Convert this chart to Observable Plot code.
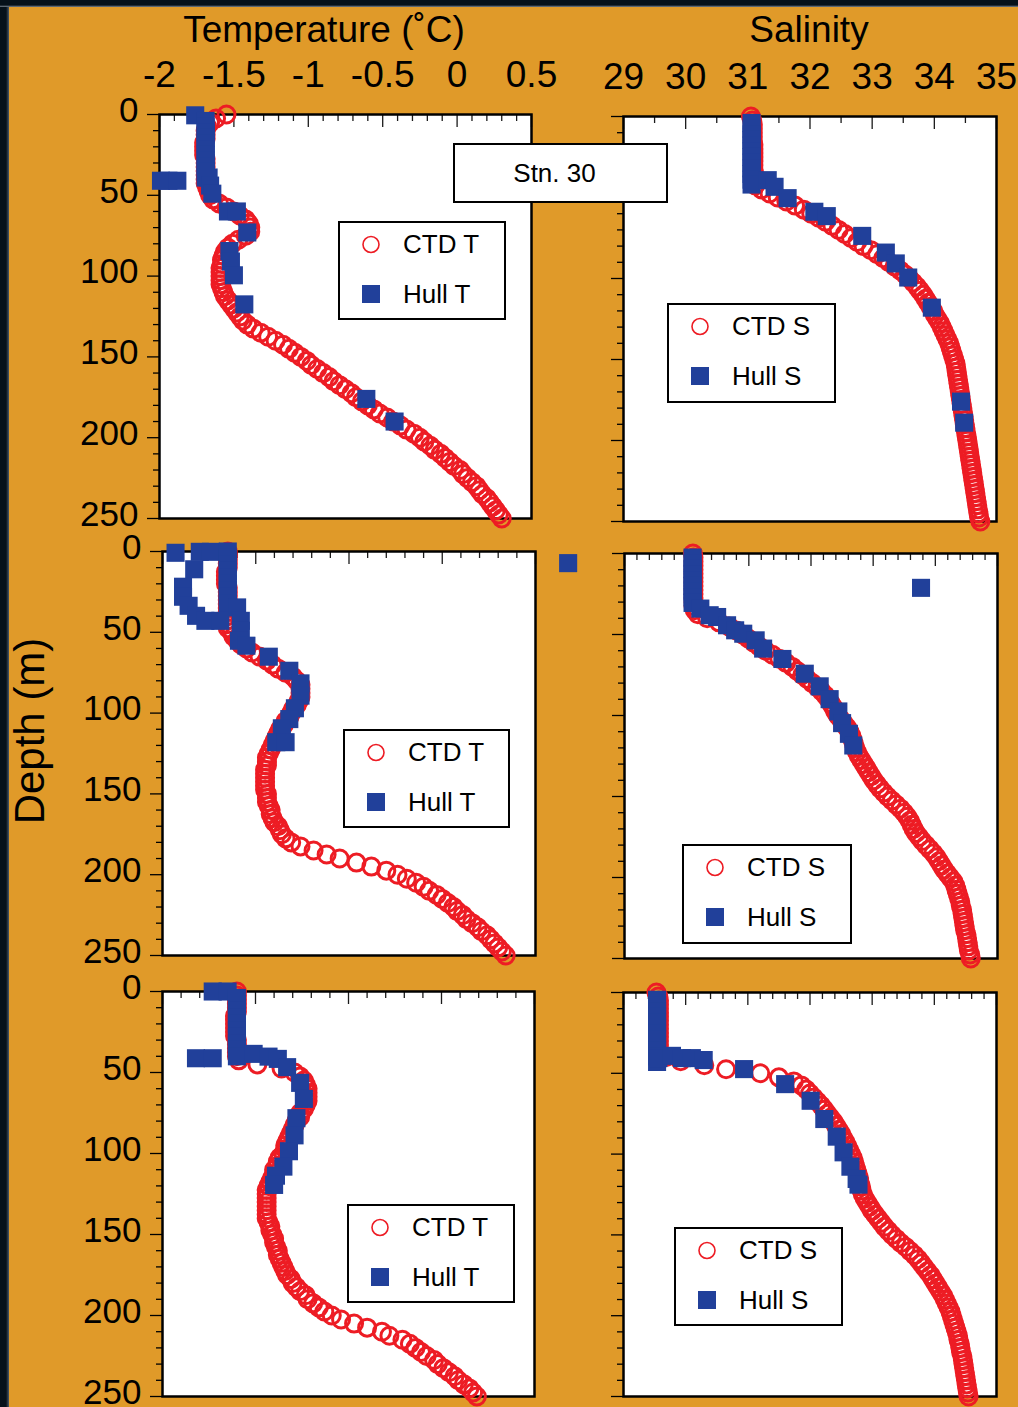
<!DOCTYPE html>
<html>
<head>
<meta charset="utf-8">
<script src="https://cdn.jsdelivr.net/npm/d3@7"></script>
<script src="https://cdn.jsdelivr.net/npm/@observablehq/plot@0.6"></script>
<style>
html, body { margin: 0; padding: 0; }
body { width: 1018px; height: 1407px; position: relative; overflow: hidden; background: #E09A29;
  font-family: "Liberation Sans", Arial, Helvetica, sans-serif; color: #000; }
.title { position: absolute; font-size: 37px; line-height: 37px; text-align: center; white-space: nowrap; }
.legend { position: absolute; background: #fff; border: 2px solid #000; box-sizing: border-box; z-index: 5; }
.legend svg { position: absolute; left: -2px; top: -2px; overflow: visible; }
.stn { position: absolute; background: #fff; border: 2px solid #000; box-sizing: border-box; z-index: 5;
  font-size: 26px; display: flex; align-items: center; justify-content: center; padding-right: 12px; }
</style>
</head>
<body>
<script>
// ---------- DATA ----------
const RED = "#ED1C24", BLUE = "#21409A";

// CTD sampling depths (m)
const depthCTD = [
  0,2.5,5,7.5,10,12.5,15,17.5,20,22.5,
  25,27.5,30,32.5,35,37.5,40,42.5,45,47.5,
  50,52.5,55,57.5,60,62.5,65,67.5,70,72.5,
  75,77.5,80,82.5,85,87.5,90,92.5,95,97.5,
  100,102.5,105,107.5,110,112.5,115,117.5,120,122.5,
  125,127.5,130,132.5,135,137.5,140,142.5,145,147.5,
  150,152.5,155,157.5,160,162.5,165,167.5,170,172.5,
  175,177.5,180,182.5,185,187.5,190,192.5,195,197.5,
  200,202.5,205,207.5,210,212.5,215,217.5,220,222.5,
  225,227.5,230,232.5,235,237.5,240,242.5,245,247.5,
  250];

// Row 1 CTD temperature / salinity
const ctdT1 = [
  -1.55,-1.62,-1.66,-1.68,-1.69,-1.69,-1.69,-1.70,-1.70,-1.70,
  -1.70,-1.69,-1.69,-1.69,-1.69,-1.69,-1.69,-1.69,-1.68,-1.67,
  -1.66,-1.64,-1.60,-1.55,-1.50,-1.46,-1.42,-1.40,-1.39,-1.39,
  -1.42,-1.47,-1.51,-1.54,-1.56,-1.57,-1.58,-1.58,-1.59,-1.59,
  -1.59,-1.59,-1.59,-1.58,-1.57,-1.56,-1.54,-1.52,-1.50,-1.48,
  -1.46,-1.44,-1.41,-1.37,-1.32,-1.27,-1.22,-1.17,-1.13,-1.09,
  -1.05,-1.01,-0.98,-0.94,-0.90,-0.86,-0.83,-0.79,-0.75,-0.71,
  -0.68,-0.64,-0.60,-0.56,-0.52,-0.47,-0.43,-0.38,-0.34,-0.29,
  -0.25,-0.22,-0.18,-0.15,-0.11,-0.08,-0.05,-0.02,0.02,0.04,
  0.07,0.10,0.13,0.15,0.17,0.20,0.22,0.24,0.26,0.28,
  0.30];
const ctdS1 = [
  31.05,31.07,31.08,31.08,31.08,31.08,31.08,31.09,31.09,31.09,
  31.09,31.09,31.09,31.09,31.10,31.10,31.10,31.12,31.22,31.35,
  31.48,31.62,31.76,31.90,32.02,32.14,32.25,32.36,32.46,32.56,
  32.66,32.76,32.86,32.98,33.08,33.18,33.27,33.36,33.45,33.53,
  33.60,33.66,33.72,33.77,33.82,33.86,33.90,33.94,33.98,34.01,
  34.05,34.09,34.12,34.15,34.18,34.21,34.24,34.26,34.28,34.30,
  34.32,34.34,34.35,34.36,34.37,34.38,34.39,34.40,34.41,34.42,
  34.43,34.44,34.45,34.46,34.47,34.48,34.49,34.50,34.51,34.52,
  34.53,34.54,34.55,34.56,34.57,34.58,34.59,34.60,34.61,34.62,
  34.63,34.64,34.65,34.66,34.67,34.68,34.69,34.70,34.71,34.72,
  34.74];

// Row 2 CTD
const ctdT2 = [
  -1.65,-1.65,-1.65,-1.65,-1.65,-1.66,-1.66,-1.66,-1.66,-1.65,
  -1.65,-1.65,-1.65,-1.65,-1.65,-1.65,-1.65,-1.65,-1.65,-1.65,
  -1.63,-1.62,-1.60,-1.58,-1.55,-1.52,-1.48,-1.44,-1.41,-1.38,
  -1.34,-1.30,-1.28,-1.26,-1.26,-1.26,-1.26,-1.27,-1.28,-1.30,
  -1.31,-1.32,-1.34,-1.35,-1.37,-1.38,-1.39,-1.40,-1.41,-1.42,
  -1.43,-1.44,-1.44,-1.44,-1.45,-1.45,-1.45,-1.45,-1.45,-1.45,
  -1.44,-1.44,-1.44,-1.43,-1.42,-1.42,-1.41,-1.40,-1.38,-1.37,
  -1.36,-1.34,-1.31,-1.26,-1.19,-1.12,-1.05,-0.96,-0.88,-0.80,
  -0.74,-0.69,-0.64,-0.60,-0.57,-0.53,-0.50,-0.47,-0.44,-0.42,
  -0.39,-0.37,-0.34,-0.31,-0.29,-0.26,-0.24,-0.22,-0.20,-0.18,
  -0.16];
const ctdS2 = [
  30.10,30.11,30.11,30.11,30.11,30.11,30.11,30.11,30.11,30.11,
  30.11,30.11,30.11,30.11,30.13,30.18,30.33,30.52,30.68,30.80,
  30.90,30.99,31.08,31.17,31.27,31.38,31.49,31.60,31.70,31.78,
  31.86,31.94,32.02,32.10,32.17,32.23,32.28,32.32,32.36,32.39,
  32.43,32.48,32.53,32.58,32.62,32.65,32.67,32.69,32.71,32.74,
  32.77,32.81,32.85,32.89,32.93,32.97,33.01,33.06,33.11,33.17,
  33.23,33.30,33.37,33.44,33.50,33.55,33.59,33.62,33.65,33.69,
  33.74,33.79,33.85,33.91,33.97,34.02,34.06,34.10,34.14,34.19,
  34.24,34.29,34.32,34.34,34.36,34.38,34.40,34.41,34.43,34.44,
  34.45,34.46,34.47,34.48,34.50,34.51,34.52,34.53,34.54,34.56,
  34.57];

// Row 3 CTD
const ctdT3 = [
  -1.60,-1.60,-1.60,-1.60,-1.60,-1.60,-1.61,-1.61,-1.61,-1.61,
  -1.61,-1.61,-1.60,-1.60,-1.60,-1.60,-1.60,-1.59,-1.49,-1.36,
  -1.29,-1.26,-1.24,-1.23,-1.22,-1.22,-1.22,-1.22,-1.23,-1.24,
  -1.26,-1.26,-1.28,-1.29,-1.30,-1.31,-1.32,-1.33,-1.34,-1.34,
  -1.35,-1.37,-1.38,-1.38,-1.40,-1.40,-1.41,-1.42,-1.43,-1.44,
  -1.44,-1.44,-1.44,-1.44,-1.44,-1.44,-1.44,-1.43,-1.42,-1.42,
  -1.41,-1.40,-1.40,-1.39,-1.38,-1.38,-1.37,-1.36,-1.35,-1.34,
  -1.33,-1.31,-1.30,-1.28,-1.26,-1.23,-1.22,-1.19,-1.16,-1.13,
  -1.09,-1.04,-0.97,-0.90,-0.82,-0.78,-0.71,-0.67,-0.64,-0.61,
  -0.58,-0.54,-0.52,-0.49,-0.46,-0.43,-0.41,-0.38,-0.35,-0.33,
  -0.31];
const ctdS3 = [
  29.53,29.56,29.57,29.57,29.57,29.57,29.57,29.57,29.57,29.57,
  29.57,29.57,29.57,29.57,29.57,29.57,29.68,29.92,30.30,30.65,
  31.20,31.50,31.74,31.86,31.94,32.00,32.06,32.12,32.18,32.23,
  32.28,32.33,32.38,32.42,32.46,32.50,32.53,32.57,32.60,32.63,
  32.66,32.69,32.71,32.73,32.75,32.77,32.79,32.80,32.82,32.83,
  32.85,32.88,32.92,32.96,33.00,33.05,33.10,33.15,33.20,33.26,
  33.32,33.39,33.46,33.54,33.61,33.68,33.74,33.79,33.84,33.89,
  33.94,33.98,34.02,34.06,34.10,34.14,34.17,34.20,34.23,34.26,
  34.28,34.30,34.32,34.34,34.36,34.38,34.39,34.41,34.42,34.43,
  34.45,34.46,34.47,34.48,34.49,34.50,34.51,34.52,34.53,34.54,
  34.55];

// Hull sensor samples (depth, value)
const hullT1Depth = [0.5,4,7.5,11,14.5,18,21.5,25,28.5,32,35.5,39,41,41,41,39,44,49,60,60,73,84.5,91,99.5,117.5,176,190];
const hullT1 = [-1.76,-1.69,-1.69,-1.69,-1.69,-1.69,-1.69,-1.69,-1.69,-1.69,-1.69,-1.69,-1.99,-1.94,-1.88,-1.67,-1.66,-1.645,-1.54,-1.48,-1.41,-1.53,-1.52,-1.50,-1.43,-0.61,-0.42];

const hullS1Depth = [4,7.5,11,14.5,18,21.5,25,28.5,32,35.5,39,42,39.3,43.4,50.4,58.8,61.5,73.7,84,90.7,99.4,118,176,189];
const hullS1 = [31.06,31.06,31.06,31.06,31.06,31.06,31.06,31.06,31.06,31.06,31.06,31.06,31.32,31.43,31.64,32.07,32.27,32.84,33.22,33.38,33.58,33.96,34.43,34.48];

const hullT2Depth = [0.8,0.2,0.2,0,4,8,12,16,20,24,28,32,11,21.8,28,33.6,39.8,42.9,42.9,34.6,42.9,49,55.2,58.3,65.1,73.8,81.6,89.2,97,103.7,109.4,118,118,7.2];
const hullT2 = [-1.93,-1.80,-1.74,-1.65,-1.65,-1.65,-1.65,-1.65,-1.65,-1.65,-1.65,-1.65,-1.83,-1.89,-1.89,-1.86,-1.82,-1.77,-1.69,-1.60,-1.58,-1.58,-1.59,-1.55,-1.43,-1.32,-1.26,-1.26,-1.29,-1.32,-1.36,-1.39,-1.34,0.175];

const hullS2Depth = [2.5,6,9.5,13,16.5,20,23.5,27,30.5,34,38.1,39.2,44.3,47.4,49.5,53.6,58.7,65.1,74.2,82,89.9,97.5,104.7,111.3,118.5,21.2];
const hullS2 = [30.095,30.095,30.095,30.095,30.095,30.095,30.095,30.095,30.095,30.22,30.37,30.49,30.65,30.78,30.91,31.11,31.23,31.54,31.90,32.14,32.30,32.44,32.50,32.61,32.68,33.77];

const hullT3Depth = [0,0,4,8,12,16,20,24,28,32,36,40,41.2,41.2,38.5,40.2,41.6,46.7,56.4,66.3,78.2,88.8,98.6,108.1,113.7,119.4];
const hullT3 = [-1.73,-1.65,-1.60,-1.60,-1.60,-1.60,-1.60,-1.60,-1.60,-1.60,-1.60,-1.60,-1.82,-1.73,-1.51,-1.43,-1.38,-1.33,-1.26,-1.24,-1.28,-1.29,-1.32,-1.35,-1.39,-1.40];

const hullS3Depth = [4.5,8,11.5,15,18.5,22,25.5,29,32.5,36,39.5,43,40.6,39.2,40.6,40.6,41.8,47.4,56.7,67,78.3,89.2,98.9,107.8,115.4,118.9];
const hullS3 = [29.54,29.54,29.54,29.54,29.54,29.54,29.54,29.54,29.54,29.54,29.54,29.54,29.56,29.78,29.94,30.10,30.29,30.94,31.60,32.01,32.23,32.43,32.54,32.65,32.75,32.78];

// Ticks / labels
const tempLabels = [-2, -1.5, -1, -0.5, 0, 0.5];
const salLabels = [29, 30, 31, 32, 33, 34, 35];
const tempMinor = [-1.9,-1.8,-1.7,-1.6,-1.4,-1.3,-1.2,-1.1,-0.9,-0.8,-0.7,-0.6,-0.4,-0.3,-0.2,-0.1,0.1,0.2,0.3,0.4];
const salMinorHalf = [29.5,30.5,31.5,32.5,33.5,34.5];
const salMinorFifth = [29.2,29.4,29.6,29.8,30.2,30.4,30.6,30.8,31.2,31.4,31.6,31.8,32.2,32.4,32.6,32.8,33.2,33.4,33.6,33.8,34.2,34.4,34.6,34.8];
const depthMajor = [0, 50, 100, 150, 200, 250];
const depthMinor = [10,20,30,40,60,70,80,90,110,120,130,140,160,170,180,190,210,220,230,240];

// ---------- DRAW ----------
const FONT = '"Liberation Sans", Arial, Helvetica, sans-serif';
function panel(c) {
  const {ml, mt, mr, mb, iw, ih} = c;
  const ctd = depthCTD.map((d, i) => ({d, v: c.ctd[i]}));
  const hull = c.hullD.map((d, i) => ({d, v: c.hullV[i]}));
  const [x0, x1] = c.xDomain;
  const minor = c.xMinor.filter(v => v > x0 && v < x1);
  const major = c.xMajor.filter(v => v >= x0 && v <= x1);
  const marks = [
    Plot.frame({fill: "white"}),
    Plot.tickX(minor, {x: d => d, insetBottom: ih - 7, stroke: "#1a1a1a", strokeWidth: 1.3}),
    Plot.tickX(major, {x: d => d, insetBottom: ih - 13, stroke: "#1a1a1a", strokeWidth: 1.3}),
    Plot.axisY({ticks: depthMinor, tickSize: 6, tickFormat: () => "", label: null, strokeWidth: 1.3}),
    Plot.axisY({ticks: depthMajor, tickSize: 12, tickFormat: () => "", label: null, strokeWidth: 1.3})
  ];
  if (c.yLabels) {
    marks.push(Plot.axisY({ticks: depthMajor, tickSize: 0, tickPadding: 21, dy: -4, label: null, fontSize: 35,
      tickFormat: d => String(d)}));
  }
  marks.push(
    Plot.frame({stroke: "black", strokeWidth: 2.5}),
    Plot.dot(ctd, {x: "v", y: "d", r: 8.5, stroke: RED, strokeWidth: 3, fill: "none"}),
    Plot.dot(hull, {x: "v", y: "d", symbol: "square", r: 10.2, fill: BLUE})
  );
  if (c.topLabels) {
    marks.push(Plot.axisX({anchor: "top", ticks: c.topLabels, tickSize: 0, tickPadding: 28, fontSize: 37,
      label: null, tickFormat: d => String(d)}));
  }
  const xOpt = c.topLabels ? {domain: c.xDomain} : {domain: c.xDomain, axis: null};
  const svg = Plot.plot({
    width: ml + iw + mr, height: mt + ih + mb,
    marginLeft: ml, marginRight: mr, marginTop: mt, marginBottom: mb,
    x: xOpt,
    y: {domain: [0, 250], reverse: true},
    style: {background: "transparent", overflow: "visible", maxWidth: "none", fontFamily: FONT, color: "black"},
    marks
  });
  svg.style.position = "absolute";
  svg.style.left = (c.fl - ml) + "px";
  svg.style.top = (c.ft - mt) + "px";
  document.body.appendChild(svg);
}

const panels = [
  {fl: 159, ft: 114, iw: 372, ih: 404, ml: 150, mt: 100, mr: 40, mb: 12, xDomain: [-2, 0.5], xMajor: tempLabels, xMinor: tempMinor, topLabels: tempLabels, yLabels: true, ctd: ctdT1, hullD: hullT1Depth, hullV: hullT1},
  {fl: 623, ft: 116, iw: 373, ih: 405, ml: 20, mt: 100, mr: 14, mb: 12, xDomain: [29, 35], xMajor: salLabels, xMinor: salMinorHalf, topLabels: salLabels, yLabels: false, ctd: ctdS1, hullD: hullS1Depth, hullV: hullS1},
  {fl: 162, ft: 551, iw: 373, ih: 404, ml: 150, mt: 20, mr: 56, mb: 12, xDomain: [-2, 0], xMajor: tempLabels, xMinor: tempMinor, topLabels: null, yLabels: true, ctd: ctdT2, hullD: hullT2Depth, hullV: hullT2},
  {fl: 624, ft: 553, iw: 373, ih: 405, ml: 20, mt: 20, mr: 14, mb: 12, xDomain: [29, 35], xMajor: salLabels, xMinor: salMinorFifth, topLabels: null, yLabels: false, ctd: ctdS2, hullD: hullS2Depth, hullV: hullS2},
  {fl: 162, ft: 991, iw: 372, ih: 405, ml: 150, mt: 20, mr: 20, mb: 11, xDomain: [-2, 0], xMajor: tempLabels, xMinor: tempMinor, topLabels: null, yLabels: true, ctd: ctdT3, hullD: hullT3Depth, hullV: hullT3},
  {fl: 623, ft: 992, iw: 373, ih: 404, ml: 20, mt: 20, mr: 14, mb: 11, xDomain: [29, 35], xMajor: salLabels, xMinor: salMinorFifth, topLabels: null, yLabels: false, ctd: ctdS3, hullD: hullS3Depth, hullV: hullS3}
];
panels.forEach(panel);

// Titles
function addDiv(cls, text, css) {
  const el = document.createElement("div");
  el.className = cls;
  el.textContent = text;
  Object.assign(el.style, css);
  document.body.appendChild(el);
  return el;
}
addDiv("title", "Temperature (˚C)", {left: "124px", width: "400px", top: "11px"});
addDiv("title", "Salinity", {left: "659px", width: "300px", top: "11px"});
addDiv("title", "Depth (m)", {left: "-100px", width: "260px", top: "710px", height: "42px", lineHeight: "42px",
  fontSize: "42px", transform: "rotate(-90deg)", transformOrigin: "50% 50%"});
addDiv("stn", "Stn. 30", {left: "453px", top: "143px", width: "215px", height: "60px"});

// Legends
function legend(left, top, w, h, l1, l2) {
  const el = document.createElement("div");
  el.className = "legend";
  Object.assign(el.style, {left: left + "px", top: top + "px", width: w + "px", height: h + "px"});
  el.innerHTML =
    `<svg width="${w}" height="${h}" font-family='${FONT}' font-size="26">
      <circle cx="33" cy="23.5" r="8" fill="none" stroke="${RED}" stroke-width="1.6"/>
      <rect x="24" y="64" width="18" height="18" fill="${BLUE}"/>
      <text x="65" y="32">${l1}</text>
      <text x="65" y="82">${l2}</text>
    </svg>`;
  document.body.appendChild(el);
}
legend(338, 221, 168, 99, "CTD T", "Hull T");
legend(667, 303, 169, 100, "CTD S", "Hull S");
legend(343, 729, 167, 99, "CTD T", "Hull T");
legend(682, 844, 170, 100, "CTD S", "Hull S");
legend(347, 1204, 168, 99, "CTD T", "Hull T");
legend(674, 1227, 169, 99, "CTD S", "Hull S");

// Dark window edges
const edgeL = document.createElement("div");
Object.assign(edgeL.style, {position: "absolute", left: "0px", top: "0px", width: "9px", height: "1407px", zIndex: 10,
  background: "linear-gradient(to right, #06111a 0px, #06111a 6px, #4a5968 9px)"});
document.body.appendChild(edgeL);
const edgeT = document.createElement("div");
Object.assign(edgeT.style, {position: "absolute", left: "0px", top: "0px", width: "1018px", height: "7px", zIndex: 10,
  background: "linear-gradient(to bottom, #06111a 0px, #06111a 5px, #7a8591 7px)"});
document.body.appendChild(edgeT);
</script>
</body>
</html>
